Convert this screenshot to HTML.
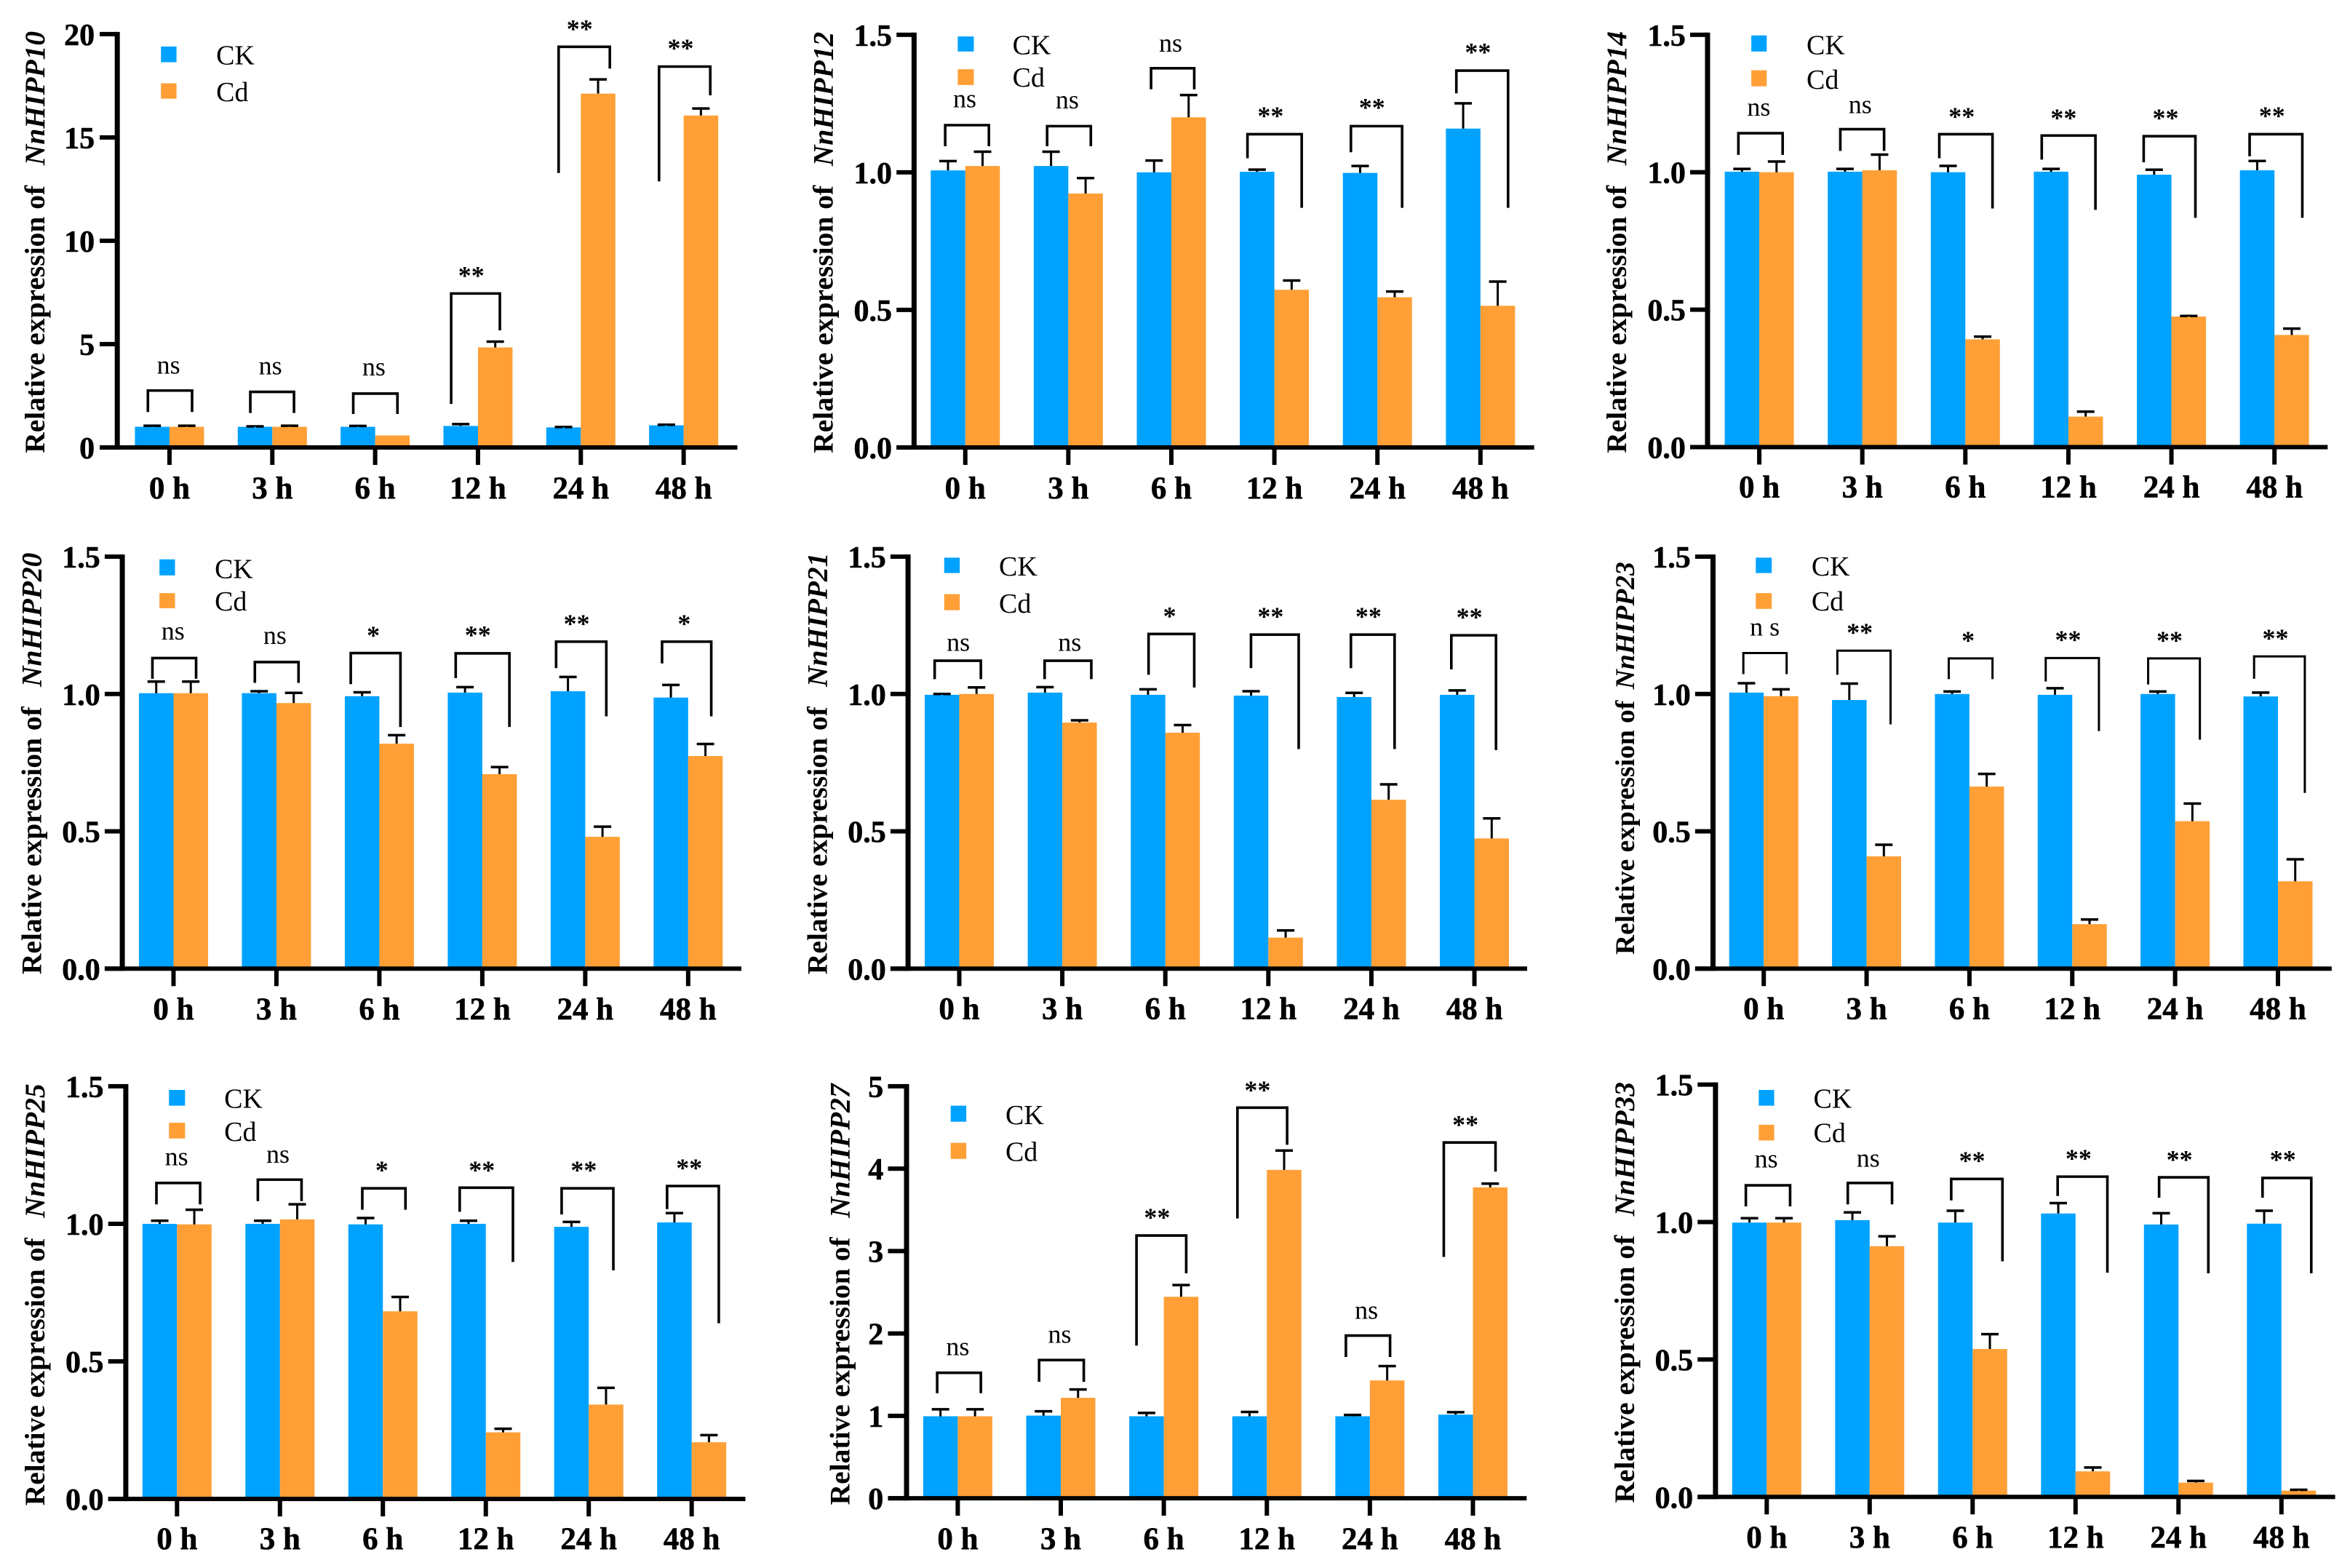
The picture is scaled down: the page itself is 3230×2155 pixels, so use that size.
<!DOCTYPE html>
<html lang="en">
<head>
<meta charset="utf-8">
<title>Relative expression of NnHIPP genes under Cd stress</title>
<style>
html,body{margin:0;padding:0;background:#fff;width:3230px;height:2155px;overflow:hidden}
svg{display:block}
text{font-family:"Liberation Serif","Times New Roman",serif;fill:#000}
</style>
</head>
<body>
<svg id="figure" xmlns="http://www.w3.org/2000/svg" width="3230" height="2155" viewBox="0 0 3230 2155"></svg>
<script>
const categories = ['0 h','3 h','6 h','12 h','24 h','48 h'];
const seriesNames = ['CK','Cd'];

const ticks10 = ['0','5','10','15','20'];
const ticks15 = ['0.0','0.5','1.0','1.5'];
const ticks27 = ['0','1','2','3','4','5'];

const ck10 = [1.0,1.0,1.0,1.04,0.97,1.07];
const ck10Err = [0.05,0.02,0.04,0.09,0.02,0.03];
const cd10 = [1.0,1.0,0.58,4.84,17.12,16.06];
const cd10Err = [0.05,0.05,0,0.28,0.69,0.34];
const sig10 = ['ns','ns','ns','**','**','**'];

const ck12 = [1.007,1.023,1.0,1.002,0.998,1.159];
const ck12Err = [0.034,0.052,0.043,0.008,0.025,0.092];
const cd12 = [1.023,0.923,1.2,0.573,0.546,0.515];
const cd12Err = [0.052,0.056,0.081,0.034,0.021,0.088];
const sig12 = ['ns','ns','ns','**','**','**'];

const ck14 = [1.002,1.002,1.0,1.002,0.991,1.007];
const ck14Err = [0.01,0.01,0.023,0.01,0.018,0.034];
const cd14 = [1.0,1.007,0.392,0.111,0.475,0.408];
const cd14Err = [0.039,0.057,0.01,0.018,0.002,0.023];
const sig14 = ['ns','ns','**','**','**','**'];

const ck20 = [1.003,1.003,0.992,1.005,1.01,0.987];
const ck20Err = [0.042,0.007,0.014,0.02,0.052,0.046];
const cd20 = [1.003,0.967,0.819,0.708,0.48,0.774];
const cd20Err = [0.042,0.037,0.031,0.026,0.037,0.044];
const sig20 = ['ns','ns','*','**','**','*'];

const ck21 = [0.997,1.005,0.997,0.994,0.989,0.997];
const ck21Err = [0.003,0.02,0.02,0.016,0.015,0.016];
const cd21 = [1.0,0.896,0.859,0.113,0.615,0.474];
const cd21Err = [0.024,0.008,0.028,0.026,0.056,0.073];
const sig21 = ['ns','ns','*','**','**','**'];

const ck23 = [1.005,0.978,1.0,0.997,1.0,0.991];
const ck23Err = [0.034,0.06,0.009,0.024,0.009,0.014];
const cd23 = [0.992,0.409,0.663,0.162,0.537,0.318];
const cd23Err = [0.025,0.042,0.046,0.017,0.064,0.08];
const sig23 = ['n s','**','*','**','**','**'];

const ck25 = [1.0,1.0,0.998,1.0,0.989,1.005];
const ck25Err = [0.011,0.011,0.023,0.011,0.018,0.034];
const cd25 = [0.998,1.016,0.682,0.242,0.343,0.206];
const cd25Err = [0.053,0.055,0.052,0.013,0.061,0.026];
const sig25 = ['ns','ns','*','**','**','**'];

const ck27 = [0.995,1.003,0.995,0.995,0.995,1.015];
const ck27Err = [0.085,0.053,0.041,0.053,0.016,0.029];
const cd27 = [0.995,1.219,2.445,3.985,1.43,3.773];
const cd27Err = [0.085,0.101,0.142,0.235,0.174,0.045];
const sig27 = ['ns','ns','**','**','ns','**'];

const ck33 = [0.998,1.007,0.998,1.031,0.991,0.994];
const ck33Err = [0.016,0.028,0.043,0.038,0.041,0.047];
const cd33 = [0.998,0.912,0.538,0.093,0.052,0.023];
const cd33Err = [0.016,0.036,0.054,0.014,0.006,0.003];
const sig33 = ['ns','ns','**','**','**','**'];

/* Panel frames and annotation placement, measured in zoomed-crop units */
const panels = [
 {gene:'NnHIPP10',ck:ck10,ckE:ck10Err,cd:cd10,cdE:cd10Err,sig:sig10,ticks:ticks10,ox:0,oy:0,sx:1.449,axis:235,y0:1338,yt:103,tl:200,xr:1470,x0:339,x5:1363,leg:[322,353,140,187,250,296,432,193,303],title:[90,1355,495],yr:190,xb:1490,
  br:[[296,384,1168,1232,1232,337,1117],[500,587,1172,1235,1235,540,1120],[705,793,1177,1238,1238,746,1123],[900,997,878,1208,988,940,813],[1114,1216,141,518,206,1156,76],[1314,1416,200,543,286,1357,134]]},
 {gene:'NnHIPP12',ck:ck12,ckE:ck12Err,cd:cd12,cdE:cd12Err,sig:sig12,ticks:ticks15,ox:1080,oy:0,sx:1.449,axis:257,y0:1338,yt:105,tl:222,xr:1492,x0:359,x5:1385,leg:[344,376,110,155,208,255,453,163,260],title:[95,1355,497],yr:213,xb:1490,
  br:[[319,406,375,438,438,358,322],[522,609,378,438,438,562,325],[729,815,205,268,268,768,155],[921,1029,402,474,622,967,336],[1127,1229,378,456,622,1169,311],[1337,1440,212,280,622,1380,146]]},
 {gene:'NnHIPP14',ck:ck14,ckE:ck14Err,cd:cd14,cdE:cd14Err,sig:sig14,ticks:ticks15,ox:2160,oy:0,sx:1.463,axis:275,y0:1337,yt:105,tl:240,xr:1522,x0:379,x5:1415,leg:[363,394,107,155,211,259,474,163,266],title:[111,1355,495],yr:231,xb:1487,
  br:[[337,426,399,464,464,378,347],[542,630,387,452,452,582,339],[741,848,402,474,624,786,338],[947,1055,406,478,628,991,342],[1152,1256,408,486,652,1196,342],[1365,1471,402,468,652,1410,336]]},
 {gene:'NnHIPP20',ck:ck20,ckE:ck20Err,cd:cd20,cdE:cd20Err,sig:sig20,ticks:ticks15,ox:0,oy:720,sx:1.449,axis:245,y0:1330,yt:99,tl:210,xr:1478,x0:347,x5:1372,leg:[319,350,107,155,208,253,429,163,260],title:[83,1347,488],yr:201,xb:1482,
  br:[[305,392,402,464,464,346,347],[509,596,414,476,476,549,360],[700,799,387,480,608,745,323],[909,1016,388,462,608,953,322],[1109,1209,353,432,576,1150,288],[1320,1418,353,418,576,1364,288]]},
 {gene:'NnHIPP21',ck:ck21,ckE:ck21Err,cd:cd21,cdE:cd21Err,sig:sig21,ticks:ticks15,ox:1080,oy:720,sx:1.449,axis:245,y0:1330,yt:99,tl:210,xr:1478,x0:347,x5:1373,leg:[317,348,102,148,211,259,426,155,266],title:[83,1347,488],yr:201,xb:1480,
  br:[[298,390,410,465,465,345,380],[517,610,410,465,465,567,380],[724,815,330,452,490,766,265],[928,1023,332,432,674,967,266],[1127,1214,332,432,674,1162,266],[1327,1416,334,436,677,1363,268]]},
 {gene:'NnHIPP23',ck:ck23,ckE:ck23Err,cd:cd23,cdE:cd23Err,sig:sig23,ticks:ticks15,ox:2160,oy:720,sx:1.463,axis:286,y0:1330,yt:99,tl:250,xr:1530,x0:388,x5:1422,leg:[372,404,102,148,208,255,484,155,260],title:[127,1288,495],titleFs:37.5,yr:241,xb:1480,sw:3,
  br:[[347,434,387,450,450,390,335],[536,643,380,452,600,581,314],[760,848,403,465,465,799,338],[955,1062,402,472,620,1000,336],[1161,1265,403,481,646,1204,338],[1374,1476,397,464,805,1417,331]]},
 {gene:'NnHIPP25',ck:ck25,ckE:ck25Err,cd:cd25,cdE:cd25Err,sig:sig25,ticks:ticks15,ox:0,oy:1435,sx:1.449,axis:252,y0:1360,yt:127,tl:217,xr:1486,x0:354,x5:1379,leg:[338,370,138,185,236,283,448,191,290],title:[90,1380,520],yr:208,xb:1510,
  br:[[313,400,416,480,480,353,363],[515,602,406,470,470,555,355],[723,809,432,496,496,762,366],[917,1023,430,502,652,961,366],[1120,1223,432,510,677,1164,366],[1330,1433,425,494,835,1374,360]]},
 {gene:'NnHIPP27',ck:ck27,ckE:ck27Err,cd:cd27,cdE:cd27Err,sig:sig27,ticks:ticks27,ox:1080,oy:1435,sx:1.449,axis:242,y0:1358,yt:127,tl:205,xr:1477,x0:344,x5:1370,leg:[330,361,185,233,296,344,439,240,350],title:[128,1378,520],yr:196,xb:1510,
  br:[[303,390,983,1044,1044,344,930],[506,595,945,1010,1010,547,893],[700,799,573,902,686,741,508],[901,1000,191,522,302,941,127],[1117,1205,872,936,936,1158,822],[1312,1415,295,637,382,1355,230]]},
 {gene:'NnHIPP33',ck:ck33,ckE:ck33Err,cd:cd33,cdE:cd33Err,sig:sig33,ticks:ticks15,ox:2160,oy:1435,sx:1.463,axis:291,y0:1354,yt:122,tl:255,xr:1537,x0:394,x5:1429,leg:[378,409,138,185,242,289,488,191,294],title:[127,1372,515],yr:246,xb:1505,
  br:[[352,441,423,486,486,393,370],[557,646,416,480,480,598,367],[765,868,404,468,650,807,338],[979,1079,397,455,684,1021,331],[1183,1282,399,460,686,1224,335],[1391,1489,401,460,686,1432,335]]}
];

const SY = 2.174;
const SHIFT_X = -1;
const SHIFT_Y = -0.5;
const BLUE = '#00A2FF';
const ORANGE = '#FF9F36';
const NS = 'http://www.w3.org/2000/svg';
const root = document.getElementById('figure');

function mk(tag, attrs, parent, txt) {
  const n = document.createElementNS(NS, tag);
  for (const k in attrs) n.setAttribute(k, attrs[k]);
  if (txt !== undefined) n.textContent = txt;
  parent.appendChild(n);
  return n;
}

panels.forEach(function (p) {
  const gid = p.gene.toLowerCase();
  const X = function (z) { return p.ox + z / p.sx + SHIFT_X; };
  const Y = function (z) { return p.oy + z / SY + SHIFT_Y; };
  const maxVal = parseFloat(p.ticks[p.ticks.length - 1]);
  /* axis functions */
  const yScale = function (v) { return Y(p.y0) + (Y(p.yt) - Y(p.y0)) * v / maxVal; };
  const xScale = function (i) { return X(p.x0) + (X(p.x5) - X(p.x0)) * i / (categories.length - 1); };
  const barW = 47.5, capW = 24, stemW = 3, capT = 3.5;

  const g = mk('g', {}, root);
  
  

  categories.forEach(function (cat, i) {
    const cx = xScale(i);
    const base = yScale(0);
    [[p.ck, p.ckE, BLUE, 'ck', cx - barW], [p.cd, p.cdE, ORANGE, 'cd', cx]].forEach(function (s) {
      const v = s[0][i], e = s[1][i], left = s[4];
      const top = yScale(v);
      const bar = mk('rect', {x: left, y: top, width: barW, height: base - top, fill: s[2]}, g);
      
      
      if (e > 0) {
        const etop = yScale(v + e) + capT / 2;
        const mid = left + barW / 2;
        const eb = mk('path', {d: 'M' + (mid - stemW / 2) + ' ' + top + 'H' + (mid + stemW / 2) + 'V' + etop + 'H' + (mid + capW / 2) + 'V' + (etop - capT) + 'H' + (mid - capW / 2) + 'V' + etop + 'H' + (mid - stemW / 2) + 'Z', fill: '#000'}, g);
        
        
      }
    });
  });

  const yAxis = mk('rect', {x: X(p.axis) - 3.5, y: yScale(maxVal) - 3, width: 7, height: yScale(0) - yScale(maxVal) + 6, fill: '#000'}, g);
  
  
  const xAxis = mk('rect', {x: X(p.tl), y: yScale(0) - 3, width: X(p.xr) - X(p.tl), height: 6, fill: '#000'}, g);
  
  

  p.ticks.forEach(function (t) {
    const v = parseFloat(t), ty = yScale(v);
    const tk = mk('rect', {x: X(p.tl), y: ty - 3, width: X(p.axis) - X(p.tl), height: 6, fill: '#000'}, g);
    
    
    const lb = mk('text', {x: X(p.yr), y: ty + 15, 'text-anchor': 'end', 'font-size': 42, 'font-weight': 'bold', stroke: '#000', 'stroke-width': 0.6}, g, t);
    
    
  });

  categories.forEach(function (cat, i) {
    const cx = xScale(i);
    const tk = mk('rect', {x: cx - 3, y: yScale(0), width: 6, height: 24, fill: '#000'}, g);
    
    
    const lb = mk('text', {x: cx, y: Y(p.xb), 'text-anchor': 'middle', 'font-size': 43, 'font-weight': 'bold', stroke: '#000', 'stroke-width': 0.6}, g, cat);
    
    
  });

  /* y-axis title */
  const fs = p.titleFs || 39.5;
  const bx = X(p.title[0]), by = Y(p.title[1]);
  const title = mk('text', {x: bx, y: by, transform: 'rotate(-90 ' + bx + ' ' + by + ')', 'font-size': fs, 'font-weight': 'bold'}, g, 'Relative expression of');
  
  
  const geneLabel = mk('tspan', {x: bx + (Y(p.title[1]) - Y(p.title[2])), 'font-style': 'italic'}, title, p.gene);
  
  

  /* legend */
  const L = p.leg;
  [[BLUE, L[2], L[3], L[7], 0], [ORANGE, L[4], L[5], L[8], 1]].forEach(function (e) {
    const sw = mk('rect', {x: X(L[0]), y: Y(e[1]), width: X(L[1]) - X(L[0]), height: Y(e[2]) - Y(e[1]), fill: e[0]}, g);
    
    
    const lb = mk('text', {x: X(L[6]), y: Y(e[3]), 'font-size': 38}, g, seriesNames[e[4]]);
    
    
  });

  /* significance brackets */
  p.br.forEach(function (b, i) {
    const br = mk('path', {d: 'M' + X(b[0]) + ' ' + Y(b[3]) + 'V' + Y(b[2]) + 'H' + X(b[1]) + 'V' + Y(b[4]), fill: 'none', stroke: '#000', 'stroke-width': p.sw || 3.6}, g);
    
    
    const star = p.sig[i].indexOf('*') >= 0;
    const lb = mk('text', {x: X(b[5]), y: star ? Y(b[6]) + 17 : Y(b[6]), 'text-anchor': 'middle', 'font-size': 36, 'font-weight': star ? 'bold' : 'normal'}, g, p.sig[i]);
    
    
  });
});
</script>
</body>
</html>
